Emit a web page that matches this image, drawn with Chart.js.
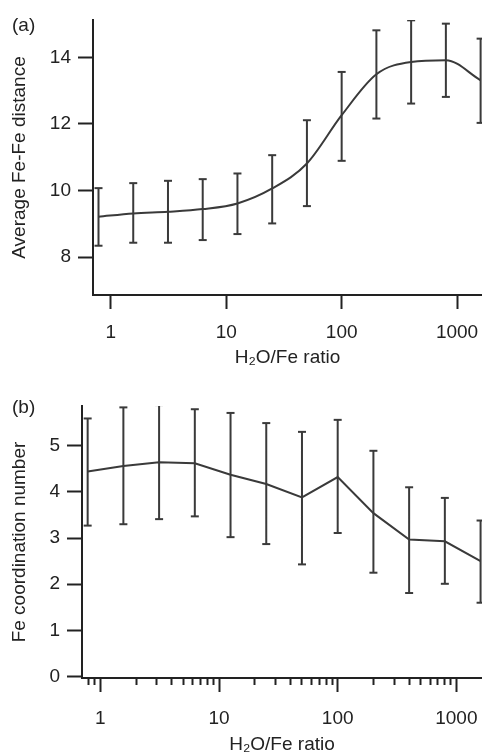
<!DOCTYPE html>
<html><head><meta charset="utf-8">
<script src="https://cdn.jsdelivr.net/npm/chart.js@4"></script>
<style>
html,body{margin:0;padding:0;background:#fff;width:482px;height:756px;overflow:hidden;}
.wrap{position:absolute;left:0;width:482px;overflow:hidden;}
.panel{position:absolute;left:12px;font-family:"Liberation Sans",Arial,sans-serif;font-size:19px;line-height:19px;color:#222;}
</style></head><body>
<div class="wrap" style="top:0;height:376px"><canvas id="ca" width="488" height="376"></canvas></div>
<div class="wrap" style="top:376px;height:380px"><canvas id="cb" width="488" height="380"></canvas></div>
<div class="panel" style="top:15px">(a)</div>
<div class="panel" style="top:397px">(b)</div>
<script>
// H2O/Fe ratios (x values)
const ratios = [0.78125, 1.5625, 3.125, 6.25, 12.5, 25, 50, 100, 200, 400, 800, 1600];

// (a) Average Fe-Fe distance with error bar limits
const feDist   = [9.21, 9.31, 9.36, 9.44, 9.61, 10.06, 10.81, 12.26, 13.49, 13.86, 13.91, 13.31];
const feDistLo = [8.34, 8.43, 8.43, 8.51, 8.69, 9.01, 9.53, 10.89, 12.16, 12.61, 12.81, 12.03];
const feDistHi = [10.07, 10.22, 10.29, 10.34, 10.51, 11.06, 12.11, 13.56, 14.81, 15.11, 15.01, 14.56];

// (b) Fe coordination number with error bar limits
const coordNum = [4.44, 4.56, 4.64, 4.62, 4.37, 4.17, 3.88, 4.32, 3.54, 2.97, 2.93, 2.50];
const coordLo  = [3.27, 3.30, 3.41, 3.47, 3.02, 2.87, 2.43, 3.11, 2.25, 1.81, 2.01, 1.60];
const coordHi  = [5.59, 5.83, 5.88, 5.79, 5.71, 5.49, 5.30, 5.56, 4.89, 4.10, 3.87, 3.38];

// tick values
const yTicksA = [8, 10, 12, 14];
const yTicksB = [0, 1, 2, 3, 4, 5];
const xMajorTicks = [1, 10, 100, 1000];
const xMinorTicks = [0.8, 0.9, 2, 3, 4, 5, 6, 7, 8, 9, 20, 30, 40, 50, 60, 70, 80, 90, 200, 300, 400, 500, 600, 700, 800, 900];

const xTitle = 'H₂O/Fe ratio';
const yTitleA = 'Average Fe-Fe distance';
const yTitleB = 'Fe coordination number';

const FONT = "'Liberation Sans', Arial, sans-serif";
const INK = '#222';
const LINE = '#3a3a3a';
const X_MIN = 0.715, X_MAX = 1645;

function errorData(lo, hi) {
  const out = [];
  ratios.forEach((r, i) => { out.push({x: r, y: lo[i]}, {x: r, y: hi[i]}, {x: r, y: null}); });
  return out;
}

function makeChart(id, o) {
  const datasets = [
    {data: errorData(o.lo, o.hi), xAxisID: 'x', yAxisID: 'y', borderColor: LINE, borderWidth: 2, spanGaps: false,
     pointStyle: 'line', pointRadius: 4, pointHoverRadius: 4, pointBorderWidth: 2, pointBorderColor: LINE, tension: 0},
    {data: ratios.map((r, i) => ({x: r, y: o.values[i]})), xAxisID: 'x', yAxisID: 'y', borderColor: LINE, borderWidth: 2,
     pointRadius: 0, cubicInterpolationMode: o.smooth ? 'monotone' : 'default', tension: 0}
  ];
  const tickFont = {family: FONT, size: 19};
  const scales = {
    x: {type: 'logarithmic', position: 'bottom', weight: 1, min: X_MIN, max: X_MAX,
        afterBuildTicks: s => { s.ticks = xMajorTicks.map(v => ({value: v})); },
        afterFit: s => { s.height = o.xHeight; s.paddingLeft = 0; s.paddingRight = 0; },
        ticks: {autoSkip: false, maxRotation: 0, minRotation: 0, padding: o.xTickPad, color: INK, font: tickFont,
                callback: v => String(v)},
        grid: {drawOnChartArea: false, drawTicks: true, tickLength: 14, tickWidth: 2, tickColor: INK},
        border: {display: true, color: INK, width: 2},
        title: {display: true, text: xTitle, color: INK, font: tickFont, padding: {top: 0, bottom: o.xTitlePad}}},
    y: {type: 'linear', position: 'left', min: o.yMin, max: o.yMax,
        afterBuildTicks: s => { s.ticks = o.yTicks.map(v => ({value: v})); },
        afterFit: s => { s.width = o.yWidth; },
        ticks: {padding: 7, color: INK, font: tickFont},
        grid: {drawOnChartArea: false, drawTicks: true, tickLength: 15, tickWidth: 2, tickColor: INK},
        border: {display: true, color: INK, width: 2},
        title: {display: true, text: o.yTitle, color: INK, font: tickFont, padding: {top: 8, bottom: 0}}}
  };
  if (o.minor) {
    scales.x2 = {type: 'logarithmic', position: 'bottom', weight: 0, min: X_MIN, max: X_MAX,
        afterBuildTicks: s => { s.ticks = xMinorTicks.map(v => ({value: v})); },
        afterFit: s => { s.height = 0; s.paddingLeft = 0; s.paddingRight = 0; },
        ticks: {display: false, autoSkip: false},
        grid: {drawOnChartArea: false, drawTicks: true, tickLength: 7, tickWidth: 2, tickColor: INK},
        border: {display: false}};
  }
  return new Chart(document.getElementById(id), {
    type: 'line',
    data: {datasets},
    options: {
      responsive: false, animation: false, events: [],
      layout: {padding: {top: o.padTop, left: 0, right: 0, bottom: 0}},
      plugins: {legend: {display: false}, tooltip: {enabled: false}},
      scales
    }
  });
}

makeChart('ca', {values: feDist, lo: feDistLo, hi: feDistHi, yMin: 6.86, yMax: 15.12, yTicks: yTicksA,
  yTitle: yTitleA, minor: false, smooth: true, yWidth: 93, xHeight: 81, padTop: 20, xTickPad: 12, xTitlePad: 7});
makeChart('cb', {values: coordNum, lo: coordLo, hi: coordHi, yMin: -0.03, yMax: 5.86, yTicks: yTicksB,
  yTitle: yTitleB, minor: true, smooth: false, yWidth: 82, xHeight: 78, padTop: 30, xTickPad: 15, xTitlePad: 0});
</script>
</body></html>
